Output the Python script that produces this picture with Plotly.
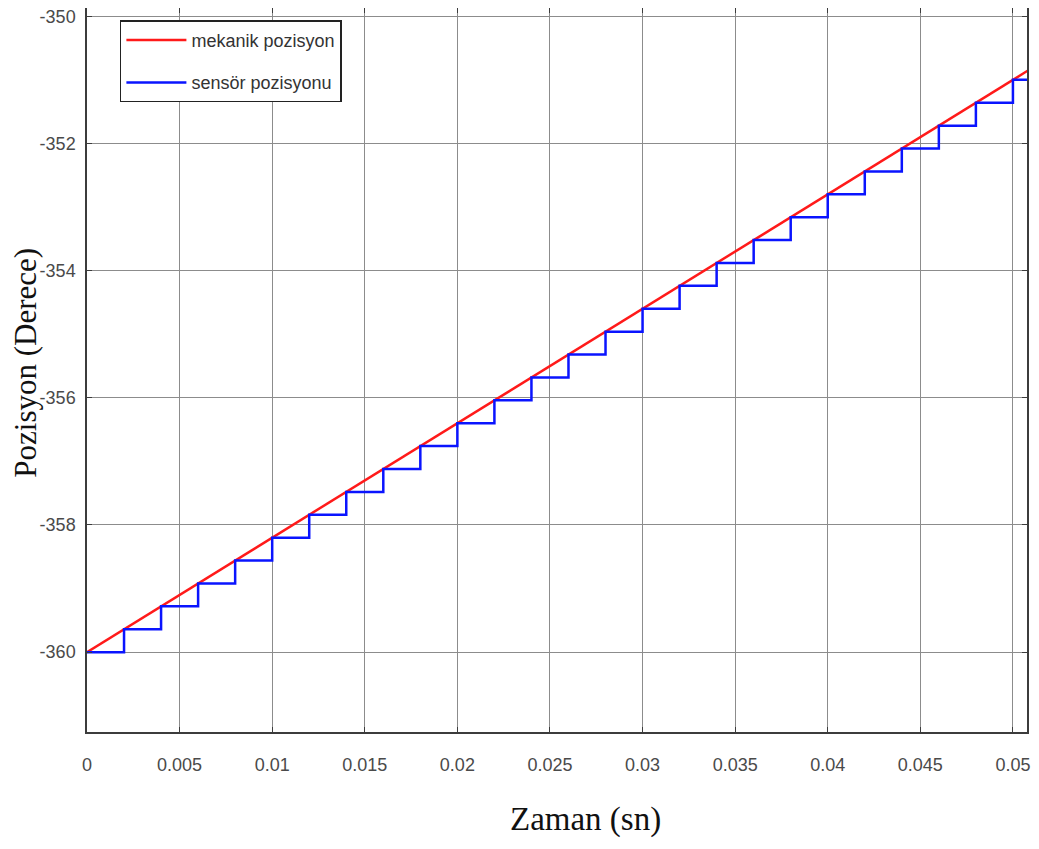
import plotly.graph_objects as go

# Data
mech_t = [0.0, 0.051]
mech_pos = [-360.0, -350.82]

sensor_t = [0.000, 0.002, 0.004, 0.006, 0.008, 0.010, 0.012, 0.014, 0.016, 0.018,
            0.020, 0.022, 0.024, 0.026, 0.028, 0.030, 0.032, 0.034, 0.036, 0.038,
            0.040, 0.042, 0.044, 0.046, 0.048, 0.050, 0.051]
sensor_pos = [-360.00, -359.64, -359.28, -358.92, -358.56, -358.20, -357.84, -357.48,
              -357.12, -356.76, -356.40, -356.04, -355.68, -355.32, -354.96, -354.60,
              -354.24, -353.88, -353.52, -353.16, -352.80, -352.44, -352.08, -351.72,
              -351.36, -351.00, -351.00]

x_tickvals = [0, 0.005, 0.01, 0.015, 0.02, 0.025, 0.03, 0.035, 0.04, 0.045, 0.05]
x_ticktext = ["0", "0.005", "0.01", "0.015", "0.02", "0.025", "0.03", "0.035", "0.04", "0.045", "0.05"]
y_tickvals = [-360, -358, -356, -354, -352, -350]
y_ticktext = ["-360", "-358", "-356", "-354", "-352", "-350"]

tick_font = dict(family="Liberation Sans, Arial, sans-serif", size=18, color="#4a4a4a")

fig = go.Figure()
fig.add_trace(go.Scatter(x=mech_t, y=mech_pos, mode="lines", name="mekanik pozisyon",
                         line=dict(color="#ff1a1a", width=2.5), legendgroup="a"))
fig.add_trace(go.Scatter(x=sensor_t, y=sensor_pos, mode="lines", name="sensör pozisyonu",
                         line=dict(color="#0a14ff", width=2.5, shape="hv"), legendgroup="b"))

axis_common = dict(showgrid=True, gridcolor="#8c8c8c", gridwidth=1,
                   showline=True, linecolor="#3c3c3c", linewidth=1.5, mirror="allticks",
                   ticks="inside", ticklen=5, tickcolor="#3c3c3c", zeroline=False,
                   tickfont=tick_font, automargin=False, ticklabeloverflow="allow")

fig.update_xaxes(range=[0, 0.05076], tickvals=x_tickvals, ticktext=x_ticktext,
                 ticklabelstandoff=16, **axis_common)
fig.update_yaxes(range=[-361.256, -349.87], tickvals=y_tickvals, ticktext=y_ticktext,
                 ticklabelstandoff=6, **axis_common)

fig.add_annotation(text="Zaman (sn)", xref="paper", yref="paper", x=0.530, y=-0.1215,
                   xanchor="center", yanchor="middle", showarrow=False,
                   font=dict(family="Liberation Serif, Times New Roman, serif", size=33, color="#111"))
fig.add_annotation(text="Pozisyon (Derece)", xref="paper", yref="paper", x=-0.065, y=0.51,
                   xanchor="center", yanchor="middle", showarrow=False, textangle=-90,
                   font=dict(family="Liberation Serif, Times New Roman, serif", size=31, color="#111"))

fig.update_layout(
    width=1031, height=841,
    margin=dict(l=79, r=12, t=0, b=117, autoexpand=False),
    plot_bgcolor="white", paper_bgcolor="white",
    showlegend=True,
    legend=dict(x=0.035, y=0.983, xanchor="left", yanchor="top",
                bgcolor="white", bordercolor="#222", borderwidth=1.5,
                font=dict(family="Liberation Sans, Arial, sans-serif", size=18, color="#333"),
                tracegroupgap=16, traceorder="grouped", itemwidth=60),
)

fig.write_html("out.html")
